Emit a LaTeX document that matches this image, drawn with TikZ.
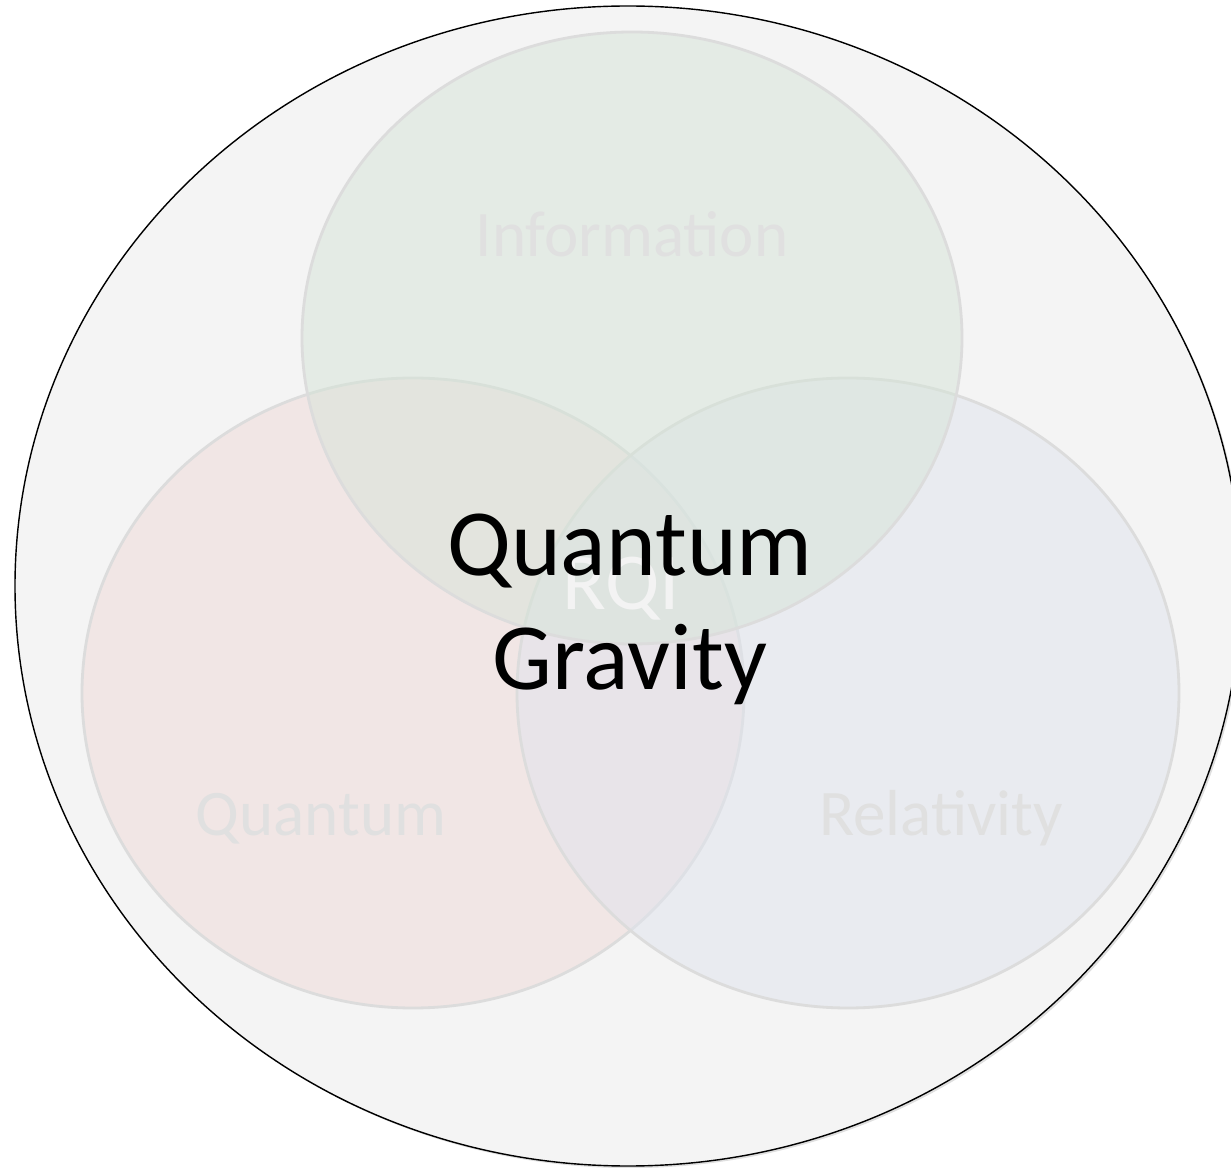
\documentclass[tikz,border=0pt]{standalone}
\usepackage{fontspec}
\setmainfont{Carlito}
\usetikzlibrary{shadows}
\definecolor{OuterGray}{RGB}{244, 244, 244}
\definecolor{RimGray}{RGB}{220, 220, 220}
\definecolor{InfoGreen}{RGB}{214, 228, 216}
\definecolor{QuantRose}{RGB}{240, 218, 216}
\definecolor{RelBlue}{RGB}{224, 228, 238}
\definecolor{LabelGray}{RGB}{224, 224, 224}
\definecolor{RqiWhite}{RGB}{243, 243, 243}

\begin{document}
\begin{tikzpicture}[x=0.02cm, y=-0.02cm,
    field/.style={draw=RimGray, line width=1.6pt, fill opacity=0.5},
    fieldlabel/.style={text=LabelGray, font=\fontsize{37}{44}\selectfont, anchor=base}]
    \useasboundingbox (0,0) rectangle (1231,1168);

    \draw[line width=0.8pt, fill=OuterGray, drop shadow={opacity=0.25, shadow xshift=1.2pt, shadow yshift=-1.2pt}]
        (628,586) ellipse [x radius=613, y radius=580];

    \draw[field, fill=QuantRose] (413,693) ellipse [x radius=331, y radius=315];
    \draw[field, fill=RelBlue] (848,693) ellipse [x radius=331, y radius=315];
    \draw[field, fill=InfoGreen] (632,338) ellipse [x radius=330, y radius=306];

    \node[fieldlabel] (info) at (632,257) {Information};
    \node[fieldlabel] (quant) at (321,835) {Quantum};
    \node[fieldlabel] (rel) at (941,835) {Relativity};
    \node[text=RqiWhite, font=\fontsize{46}{55}\selectfont, anchor=base] (rqi) at (621,610) {RQI};

    % base anchor sits on the last line
    \node[align=center, font=\fontsize{54}{65}\selectfont, anchor=base] (qg) at (630,690) {Quantum\\Gravity};
\end{tikzpicture}
\end{document}
